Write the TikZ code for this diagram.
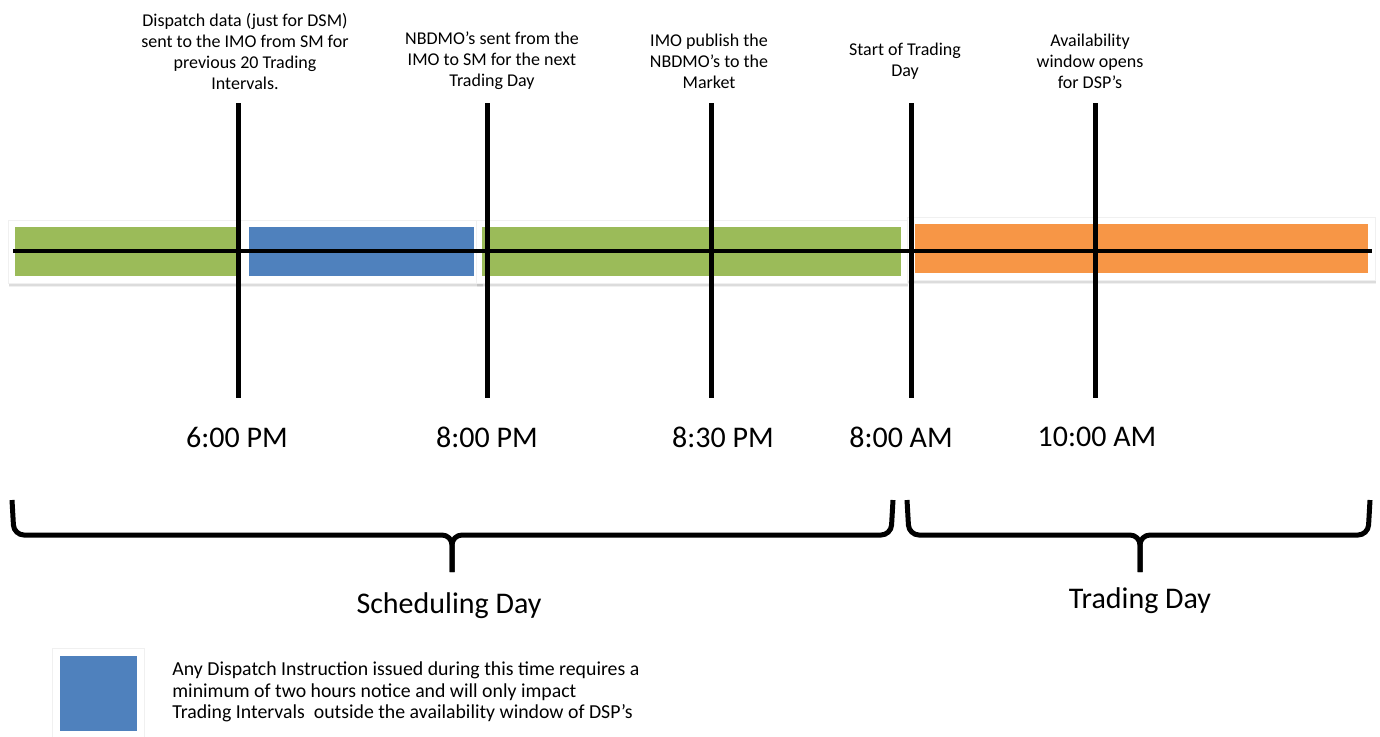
\documentclass[tikz,border=0pt]{standalone}
\usepackage{fontspec}
\setmainfont{Carlito}
\usetikzlibrary{positioning,shadows}
\definecolor{schedgreen}{HTML}{9BBB59}
\definecolor{dispblue}{HTML}{4F81BD}
\definecolor{tradeorange}{HTML}{F79646}
\tikzstyle{backing} = [fill=white, draw=black!6, line width=0.3pt,
   drop shadow={shadow xshift=0.3pt, shadow yshift=-2.2pt, opacity=0.12},
   drop shadow={shadow xshift=0.3pt, shadow yshift=-1.4pt, opacity=0.18}]
\tikzstyle{marker} = [line width=2.5pt]
\tikzstyle{timeline} = [line width=2.4pt]
\tikzstyle{event} = [align=center, font=\fontsize{9}{10.5}\selectfont, inner sep=0pt]
\tikzstyle{clock} = [font=\fontsize{15}{18}\selectfont, inner sep=0pt]
\tikzstyle{daylabel} = [font=\fontsize{15}{18}\selectfont, inner sep=0pt]
\tikzstyle{bracket} = [line width=2.5pt, rounded corners=5pt]
\tikzstyle{note} = [align=left, font=\fontsize{9.9}{10.75}\selectfont, inner sep=0pt]

\begin{document}
\begin{tikzpicture}[x=0.5pt, y=-0.5pt]
\useasboundingbox (0,0) rectangle (1380,736);

% bar backings and bands
\path [backing] (8,220) rectangle (482,283);
\path [backing] (476,220) rectangle (907,283);
\path [backing] (907,217) rectangle (1375,280);
\fill [schedgreen] (15,227) rectangle (237,276);
\fill [dispblue] (249,227) rectangle (474,276);
\fill [schedgreen] (482,227) rectangle (901,276);
\fill [tradeorange] (915,224) rectangle (1368,273);

\coordinate (barL) at (13,251);
\coordinate (barR) at (1372,251);
\draw [timeline] (barL) -- (barR);

% ticks
\coordinate (sixtop) at (238,103);   \coordinate (sixbot) at (238,398);
\coordinate (eighttop) at (487,103); \coordinate (eightbot) at (487,398);
\coordinate (halftop) at (711,103);  \coordinate (halfbot) at (711,398);
\coordinate (starttop) at (911,103); \coordinate (startbot) at (911,398);
\coordinate (tentop) at (1095,103);  \coordinate (tenbot) at (1095,398);
\draw [marker] (sixtop) -- (sixbot);
\draw [marker] (eighttop) -- (eightbot);
\draw [marker] (halftop) -- (halfbot);
\draw [marker] (starttop) -- (startbot);
\draw [marker] (tentop) -- (tenbot);

% events
\node (dispatch) [event] at (245,51) {Dispatch data (just for DSM)\\sent to the IMO from SM for\\previous 20 Trading\\Intervals.};
\node (nbdmo) [event] at (492,61) {NBDMO’s sent from the\\IMO to SM for the next\\Trading Day};
\node (publish) [event] at (709,61) {IMO publish the\\NBDMO’s to the\\Market};
\node (start) [event] at (905,61) {Start of Trading\\Day};
\node (avail) [event] at (1090,61) {Availability\\window opens\\for DSP’s};

% times
\node (six) [clock] at (237,437) {6:00 PM};
\node (eight) [clock] at (487,437) {8:00 PM};
\node (half) [clock] at (723,437) {8:30 PM};
\node (morning) [clock] at (901,437) {8:00 AM};
\node (ten) [clock] at (1097,437) {10:00 AM};

% braces
\draw [bracket] (12,500) -- (14,535) -- (452,535) -- (452,572);
\draw [bracket] (893,500) -- (891,535) -- (452,535) -- (452,572);
\draw [bracket] (907,500) -- (909,535) -- (1140,535) -- (1140,572);
\draw [bracket] (1370,500) -- (1368,535) -- (1140,535) -- (1140,572);
\node (sched) [daylabel] at (449,606) {Scheduling Day};
\node (trade) [daylabel] at (1140,601) {Trading Day};

% legend
\path [backing] (52,648) rectangle (144,740);
\fill [dispblue] (60,656) rectangle (137,731);
\node (legend) [note, anchor=west] at (172,692) {Any Dispatch Instruction issued during this time requires a\\minimum of two hours notice and will only impact\\Trading Intervals\ \ outside the availability window of DSP’s};

\end{tikzpicture}
\end{document}
